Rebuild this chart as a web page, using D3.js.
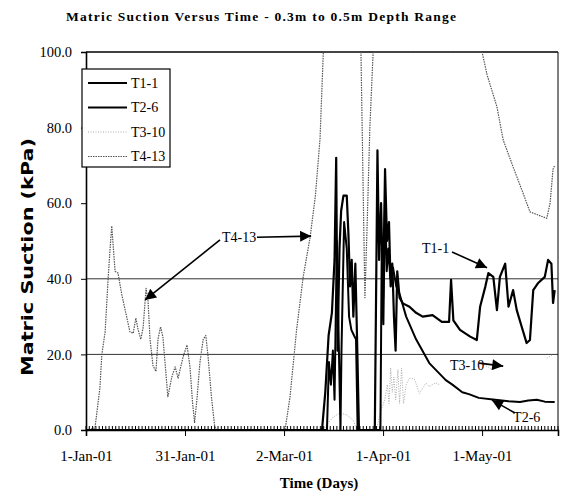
<!DOCTYPE html>
<html>
<head>
<meta charset="utf-8">
<script src="https://cdn.jsdelivr.net/npm/d3@7"></script>
<style>
  body { margin: 0; background: #fff; }
  text { font-family: "Liberation Serif", "Times New Roman", "DejaVu Serif", serif; fill: #000; }
</style>
</head>
<body>
<div id="container"></div>
<script>
// days since 1-Jan-01, matric suction in kPa
const t1Days = [0, 71.5, 72.5, 73.5, 74.5, 75.3, 75.8, 76.2, 76.8, 77.3, 78, 79, 79.5, 80, 80.5, 81, 81.6, 82.1, 82.7,
  87.5, 88.3, 88.8, 89.4, 90, 90.6, 91.2, 91.8, 92.3, 92.8, 93.3, 93.8, 94.3, 95, 96, 98, 100, 102, 105, 107.8, 110,
  110.6, 111.3, 113.3, 116.4, 118.4, 119.4, 121, 121.9, 123.4, 124.5, 125.4, 127, 128, 129.4, 130.5, 132, 133.5,
  134.5, 135.5, 137, 139, 140, 141, 141.5, 142];
const t1Values = [0, 0, 10, 25, 31, 45, 72, 21, 48, 58, 62, 62, 52, 38, 45, 30, 44, 25, 0,
  0, 74, 45, 60, 35, 69, 50, 55, 38, 44, 30, 21, 42, 35, 33.5, 32.6, 31, 30, 30.4, 28.6, 28.6,
  39.7, 29, 26.5, 24.7, 23.8, 32.6, 38, 41.5, 40.5, 31.7, 40.5, 44, 32.6, 37, 31.7, 27.3, 23,
  23.8, 37, 38.9, 40.5, 45, 44, 33.6, 37];

const t2Days = [0, 73, 73.6, 74.2, 74.8, 75.3, 76, 76.6, 77.1, 77.4, 78.2, 79, 79.7, 80.4, 81.2, 81.8, 82.3,
  89.2, 89.6, 90.1, 90.6, 91.1, 91.6, 92.2, 93, 94, 95, 97, 100, 104, 109, 111, 114, 116, 119, 124, 128, 131.5,
  134, 136.6, 139, 142];
const t2Values = [0, 0, 18, 12, 21, 8, 50, 22, 0, 21, 55, 48, 30, 26.5, 25, 24, 0,
  0, 48, 28, 62, 42, 48, 40, 43, 38, 36, 30, 24, 17.7, 13.2, 12, 10, 9.5, 8.5, 8, 7.6, 7.4,
  7.8, 8, 7.5, 7.4];

// null = no reading
const t3Days = [0, 72, 73, 75, 77, 79, 81, 82, 88, 89, 89.6, 90.5, 91.3, 91.8, 92.3, 92.8, 93.3, 93.8, 94.5, 95,
  95.6, 96.2, 97, 98, 99.5, 101, 103, 104, 106, 107, 113, 120, 123, 126, 133.6, 137, 139.6, 141.5];
const t3Values = [0, 0, 1.5, 3.5, 4.5, 4, 2.5, 0, 0, 4, 5.8, 8, 12, 7, 16.4, 10, 14, 8, 16, 7,
  16.4, 7, 12, 13.7, 13.5, 9.7, 12.4, 11.5, 12.5, 12, null, 17.7, 16, null, 14, null, 19, 20];

const t4Days = [0, 2.7, 4.2, 4.8, 5.8, 6.7, 7.3, 7.8, 8.8, 9.7, 10.8, 11.8, 13.3, 14.3, 15.1, 15.8, 16.6, 17.3,
  18.2, 18.8, 19.4, 20.3, 21.2, 21.8, 22.6, 23.3, 24.4, 24.8, 26, 27, 27.9, 29.4, 30.6, 31.5, 32.3, 32.9, 33.6,
  34.5, 35.5, 36.3, 37, 38, 39, 39.6, 60.3, 61.8, 63.8, 65.8, 67.9, 69.5, 70.9, 71.9, 83.3, 84.5, 85.2, 86, 87,
  120, 121.5, 124.5, 126.4, 129.4, 132.4, 134.5, 136.6, 139.6, 140.6, 141.5, 142];
const t4Values = [0, 0.5, 11, 20, 26, 40, 48, 54, 42, 41.5, 36, 32, 26, 25.6, 29.6, 26.5, 24, 27,
  37.5, 34, 24, 17, 15.5, 24, 27.3, 24.6, 13, 8.8, 14, 16.7, 13.7, 19.3, 22.5, 16.7, 7, 2, 8,
  17.7, 24, 25, 19.3, 8.8, 0.8, 0, 0, 8.7, 26.5, 40.5, 51, 62, 77, 100, 100, 35, 55, 80, 100,
  100, 94, 85.5, 76.7, 69.6, 62.7, 57.7, 57, 56, 60, 69, 70];

const seriesNames = ["T1-1", "T2-6", "T3-10", "T4-13"];
const yTicks = [0, 20, 40, 60, 80, 100];
const gridValues = [20, 40];
const xTickDays = [0, 30, 60, 90, 120];
const lastDay = 143;

// label text at [day, kPa], arrow from [day, kPa] to [day, kPa]
const notes = [
  { text: "T4-13", at: [41.2, 51], arrows: [[[51.8, 51], [68.2, 51.3]], [[40.6, 50.3], [17.9, 34.4]]] },
  { text: "T1-1", at: [101.8, 48.1], arrows: [[[110.9, 47.1], [121.5, 42.9]]] },
  { text: "T3-10", at: [110.3, 17.2], arrows: [[[119.1, 17.7], [126.4, 16.9]]] },
  { text: "T2-6", at: [129.4, 3.4], arrows: [[[130, 4.5], [123, 7.9]]] }
];

const width = 561, height = 495;
const plotLeft = 86, plotRight = 558, plotTop = 52, plotBottom = 430;
const jan1 = Date.UTC(2001, 0, 1);
const dayDate = d => new Date(jan1 + d * 864e5);

const svg = d3.select("#container").append("svg")
    .attr("width", width)
    .attr("height", height);

const x = d3.scaleUtc().domain([dayDate(0), dayDate(lastDay)]).range([plotLeft, plotRight]);
const y = d3.scaleLinear().domain([0, 100]).range([plotBottom, plotTop]);
const fmt = d3.utcFormat("%-d-%b-%y");

// title
svg.append("text")
    .attr("x", 261).attr("y", 21)
    .attr("text-anchor", "middle")
    .attr("font-size", 13.5).attr("font-weight", "bold")
    .attr("textLength", 390).attr("lengthAdjust", "spacing")
    .text("Matric Suction Versus Time - 0.3m to 0.5m Depth Range");

// grid lines (only 20 and 40 show in the original)
svg.append("g").selectAll("line")
    .data(gridValues)
    .join("line")
    .attr("x1", plotLeft).attr("x2", plotRight)
    .attr("y1", d => y(d)).attr("y2", d => y(d))
    .attr("stroke", "#333").attr("stroke-width", 1);

// frame top / right
svg.append("line").attr("x1", plotLeft).attr("x2", plotRight).attr("y1", plotTop).attr("y2", plotTop)
    .attr("stroke", "#000").attr("stroke-width", 1.3);
svg.append("line").attr("x1", plotRight).attr("x2", plotRight).attr("y1", plotTop).attr("y2", plotBottom)
    .attr("stroke", "#000").attr("stroke-width", 1);

// series
const lineGen = d3.line()
    .defined(d => d[1] != null)
    .x(d => x(dayDate(d[0])))
    .y(d => y(d[1]));

const zip = (days, vals) => days.map((d, i) => [d, vals[i]]);
const series = [
  { name: seriesNames[0], pts: zip(t1Days, t1Values), stroke: "#000", w: 2.2, dash: null },
  { name: seriesNames[1], pts: zip(t2Days, t2Values), stroke: "#000", w: 2, dash: null },
  { name: seriesNames[2], pts: zip(t3Days, t3Values), stroke: "#aaa", w: 1, dash: "1,1.5" },
  { name: seriesNames[3], pts: zip(t4Days, t4Values), stroke: "#555", w: 1.2, dash: "1.5,1" }
];

svg.append("g").selectAll("path")
    .data(series.slice().reverse())
    .join("path")
    .attr("fill", "none")
    .attr("stroke", d => d.stroke)
    .attr("stroke-width", d => d.w)
    .attr("stroke-dasharray", d => d.dash)
    .attr("stroke-linejoin", "round")
    .attr("d", d => lineGen(d.pts));

// y axis
const yAxis = svg.append("g")
    .attr("transform", `translate(${plotLeft},0)`)
    .call(d3.axisLeft(y).tickValues(yTicks).tickFormat(d3.format(".1f")).tickSize(5).tickPadding(9));
yAxis.select(".domain").attr("stroke-width", 1.6);
yAxis.selectAll("text").attr("font-size", 14.5);

// x axis: daily minor ticks pointing in, 30-day major ticks pointing out
svg.append("g").selectAll("line")
    .data(d3.range(0, lastDay + 1))
    .join("line")
    .attr("x1", d => x(dayDate(d))).attr("x2", d => x(dayDate(d)))
    .attr("y1", plotBottom).attr("y2", plotBottom - 4)
    .attr("stroke", "#000").attr("stroke-width", 1);

const xAxis = svg.append("g")
    .attr("transform", `translate(0,${plotBottom})`)
    .call(d3.axisBottom(x).tickValues(xTickDays.map(dayDate)).tickFormat(fmt).tickSize(6).tickPadding(14));
xAxis.select(".domain").attr("stroke-width", 1.6);
xAxis.selectAll("text").attr("font-size", 15);

// axis titles
svg.append("text")
    .attr("x", 319).attr("y", 488)
    .attr("text-anchor", "middle")
    .attr("font-size", 15).attr("font-weight", "bold")
    .text("Time (Days)");

svg.append("text")
    .attr("transform", "translate(33,257) rotate(-90)")
    .attr("text-anchor", "middle")
    .attr("font-size", 15).attr("font-weight", "bold")
    .style("font-family", "'DejaVu Sans', sans-serif")
    .attr("textLength", 238).attr("lengthAdjust", "spacingAndGlyphs")
    .text("Matric Suction (kPa)");

// legend
const legend = svg.append("g").attr("transform", "translate(82,69)");
legend.append("rect")
    .attr("width", 88).attr("height", 98)
    .attr("fill", "#fff").attr("stroke", "#000").attr("stroke-width", 1.2);
const item = legend.selectAll("g.item")
    .data(series)
    .join("g")
    .attr("class", "item")
    .attr("transform", (d, i) => `translate(0,${14 + i * 24.5})`);
item.append("line")
    .attr("x1", 6).attr("x2", 45)
    .attr("stroke", d => d.stroke)
    .attr("stroke-width", d => d.w)
    .attr("stroke-dasharray", d => d.dash);
item.append("text")
    .attr("x", 49).attr("dy", "0.35em")
    .attr("font-size", 14)
    .text(d => d.name);

// annotations
svg.append("defs").append("marker")
    .attr("id", "head")
    .attr("viewBox", "0 0 10 10")
    .attr("refX", 10).attr("refY", 5)
    .attr("markerWidth", 16).attr("markerHeight", 11)
    .attr("markerUnits", "userSpaceOnUse")
    .attr("orient", "auto")
    .append("path")
    .attr("d", "M0,0L10,5L0,10Z")
    .attr("fill", "#000");

const px = p => [x(dayDate(p[0])), y(p[1])];
const note = svg.append("g").selectAll("g").data(notes).join("g");
note.append("text")
    .attr("x", d => px(d.at)[0]).attr("y", d => px(d.at)[1])
    .attr("dy", "0.35em")
    .attr("font-size", 14)
    .text(d => d.text);
note.selectAll("line")
    .data(d => d.arrows)
    .join("line")
    .attr("x1", a => px(a[0])[0]).attr("y1", a => px(a[0])[1])
    .attr("x2", a => px(a[1])[0]).attr("y2", a => px(a[1])[1])
    .attr("stroke", "#000").attr("stroke-width", 1.6)
    .attr("marker-end", "url(#head)");
</script>
</body>
</html>
